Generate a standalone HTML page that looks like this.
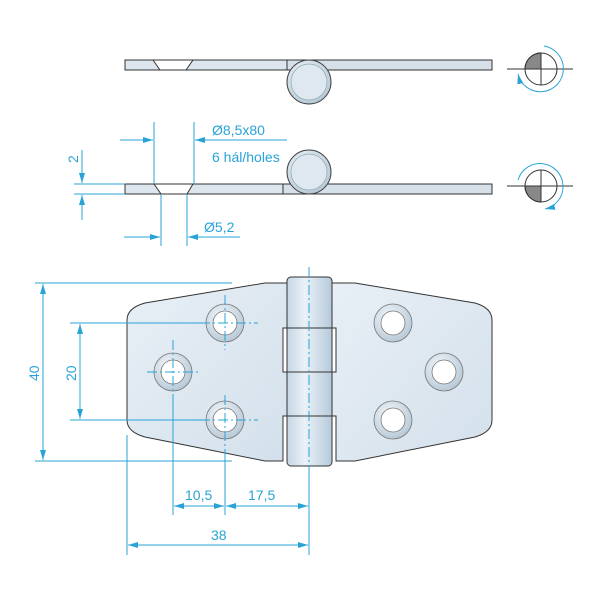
<!DOCTYPE html>
<html><head><style>body{margin:0;background:#fff}svg{display:block}text{font-family:"Liberation Sans",sans-serif;fill:#29a3d6;font-size:14px}</style></head><body>
<svg width="600" height="600" viewBox="0 0 600 600" xmlns="http://www.w3.org/2000/svg">
<defs>
<linearGradient id="pl" x1="0" y1="0" x2="1" y2="1"><stop offset="0" stop-color="#e8eff6"/><stop offset="1" stop-color="#d3e0eb"/></linearGradient>
<linearGradient id="kn" x1="0" y1="0" x2="1" y2="0"><stop offset="0" stop-color="#c5d6e4"/><stop offset=".4" stop-color="#eaf1f7"/><stop offset="1" stop-color="#b5c9da"/></linearGradient>
<radialGradient id="ring" cx=".4" cy=".35" r=".7"><stop offset="0" stop-color="#f4f8fb"/><stop offset="1" stop-color="#b4c6d5"/></radialGradient>
<marker id="a" markerWidth="10" markerHeight="6" refX="10" refY="3" orient="auto" markerUnits="userSpaceOnUse"><path d="M0,0 L10,3 L0,6z" fill="#29a3d6"/></marker>
</defs>
<g stroke="#333" stroke-width="1">
<path d="M125,60 H287 V70 H125z" fill="#dde6ee"/>
<path d="M287,60 H492 V70 H287z" fill="#d6e0e9"/>
<path d="M153,60 L160,70 H186 L193,60z" fill="#fff"/>
<circle cx="309" cy="82" r="22" fill="url(#ring)" stroke="#444"/>
<circle cx="309" cy="82" r="18" fill="#dfe8f0" stroke="#8aa" stroke-width=".7"/>
<path d="M125,184 H283 V194 H125z" fill="#dde6ee"/>
<path d="M283,184 H492 V194 H283z" fill="#d6e0e9"/>
<path d="M154,184 L161,194 H187 L193,184z" fill="#fff"/>
<circle cx="309" cy="172" r="22" fill="url(#ring)" stroke="#444"/>
<circle cx="309" cy="172" r="18" fill="#dfe8f0" stroke="#8aa" stroke-width=".7"/>
<path d="M283,283 H265 L145,303 Q127,308 127,320 V420 Q127,432 145,437 L265,461 H283 V416 H287 V372 H283 V328 H287 V283z" fill="url(#pl)"/>
<path d="M336,283 H355 L475,303 Q492,308 492,320 V420 Q492,432 475,437 L355,461 H336 V416 H332 V372 H336 V328 H332 V283z" fill="url(#pl)"/>
<rect x="287" y="277" width="45" height="189" rx="4" fill="url(#kn)"/>
<line x1="283" y1="328" x2="332" y2="328"/><line x1="287" y1="372" x2="336" y2="372"/><line x1="283" y1="416" x2="332" y2="416"/>
</g>
<g stroke="#777" stroke-width=".8">
<circle cx="225" cy="323" r="19" fill="url(#ring)"/><circle cx="225" cy="323" r="12" fill="#fff"/>
<circle cx="173" cy="372" r="19" fill="url(#ring)"/><circle cx="173" cy="372" r="12" fill="#fff"/>
<circle cx="225" cy="420" r="19" fill="url(#ring)"/><circle cx="225" cy="420" r="12" fill="#fff"/>
<circle cx="393" cy="323" r="19" fill="url(#ring)"/><circle cx="393" cy="323" r="12" fill="#fff"/>
<circle cx="444" cy="372" r="19" fill="url(#ring)"/><circle cx="444" cy="372" r="12" fill="#fff"/>
<circle cx="393" cy="420" r="19" fill="url(#ring)"/><circle cx="393" cy="420" r="12" fill="#fff"/>
</g>
<g stroke="#333" stroke-width="1">
<path d="M541,69 V53 A16,16 0 0 0 525,69z" fill="#888"/>
<circle cx="541" cy="69" r="16" fill="none"/>
<line x1="507" y1="69" x2="573" y2="69"/><line x1="541" y1="53" x2="541" y2="85"/>
<path d="M541,186 V202 A16,16 0 0 1 525,186z" fill="#888"/>
<circle cx="541" cy="186" r="16" fill="none"/>
<line x1="507" y1="186" x2="573" y2="186"/><line x1="541" y1="170" x2="541" y2="202"/>
</g>
<g stroke="#29a3d6" stroke-width="1" fill="none">
<path d="M544,46 A23,23 0 1 1 518,74" marker-end="url(#a)"/>
<path d="M518,180 A23,23 0 1 1 545,209" marker-end="url(#a)"/>
<g stroke-dasharray="10,3,2,3">
<line x1="309" y1="267" x2="309" y2="470"/>
<line x1="147" y1="372" x2="200" y2="372"/><line x1="173" y1="340" x2="173" y2="400"/>
<line x1="200" y1="323" x2="258" y2="323"/><line x1="225" y1="295" x2="225" y2="350"/>
<line x1="200" y1="420" x2="258" y2="420"/><line x1="225" y1="395" x2="225" y2="450"/>
</g>
<line x1="35" y1="283" x2="232" y2="283"/><line x1="35" y1="461" x2="232" y2="461"/>
<line x1="70" y1="323" x2="200" y2="323"/><line x1="70" y1="420" x2="200" y2="420"/>
<line x1="127" y1="435" x2="127" y2="555"/><line x1="173" y1="400" x2="173" y2="515"/>
<line x1="225" y1="450" x2="225" y2="515"/><line x1="309" y1="470" x2="309" y2="555"/>
<line x1="154" y1="122" x2="154" y2="184"/><line x1="194" y1="122" x2="194" y2="184"/>
<line x1="161" y1="194" x2="161" y2="246"/><line x1="187" y1="194" x2="187" y2="246"/>
<line x1="74" y1="184" x2="125" y2="184"/><line x1="74" y1="194" x2="125" y2="194"/>
<line x1="43" y1="372" x2="43" y2="284" marker-end="url(#a)"/><line x1="43" y1="372" x2="43" y2="460" marker-end="url(#a)"/>
<line x1="80" y1="372" x2="80" y2="324" marker-end="url(#a)"/><line x1="80" y1="372" x2="80" y2="419" marker-end="url(#a)"/>
<line x1="199" y1="506" x2="174" y2="506" marker-end="url(#a)"/><line x1="199" y1="506" x2="224" y2="506" marker-end="url(#a)"/>
<line x1="267" y1="506" x2="226" y2="506" marker-end="url(#a)"/><line x1="267" y1="506" x2="308" y2="506" marker-end="url(#a)"/>
<line x1="218" y1="545" x2="128" y2="545" marker-end="url(#a)"/><line x1="218" y1="545" x2="308" y2="545" marker-end="url(#a)"/>
<line x1="120" y1="140" x2="153" y2="140" marker-end="url(#a)"/><line x1="287" y1="140" x2="195" y2="140" marker-end="url(#a)"/>
<line x1="124" y1="237" x2="160" y2="237" marker-end="url(#a)"/><line x1="240" y1="237" x2="188" y2="237" marker-end="url(#a)"/>
<line x1="82" y1="150" x2="82" y2="183" marker-end="url(#a)"/><line x1="82" y1="220" x2="82" y2="195" marker-end="url(#a)"/>
</g>
<text x="212" y="135">Ø8,5x80</text>
<text x="212" y="162">6 hál/holes</text>
<text x="204" y="232">Ø5,2</text>
<text x="185" y="500">10,5</text>
<text x="248" y="500">17,5</text>
<text x="211" y="540">38</text>
<text transform="translate(39,381) rotate(-90)">40</text>
<text transform="translate(76,381) rotate(-90)">20</text>
<text transform="translate(78,163) rotate(-90)">2</text>
</svg>
</body></html>
